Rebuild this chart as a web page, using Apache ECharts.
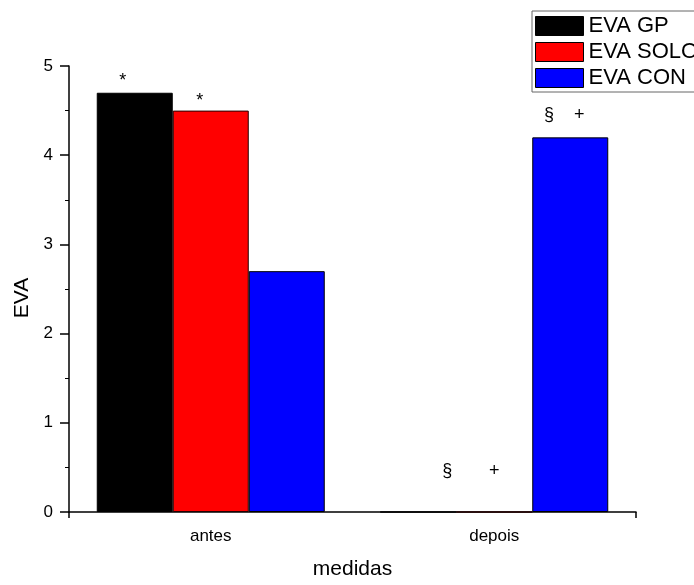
<!DOCTYPE html>
<html>
<head>
<meta charset="utf-8">
<script src="https://cdn.jsdelivr.net/npm/echarts@6/dist/echarts.min.js"></script>
<style>html,body{margin:0;padding:0;background:#fff;overflow:hidden;}#c{width:694px;height:585px;}</style>
</head>
<body>
<div id="c"></div>
<script>
const categories = ['antes', 'depois'];
const seriesNames = ['EVA GP', 'EVA SOLO', 'EVA CON'];
const evaGP = [4.7, 0];
const evaSOLO = [4.5, 0];
const evaCON = [2.7, 4.2];
const marksGP = ['*', '§'];
const marksSOLO = ['*', '+'];
const marksCON = ['', '§    +'];

const FONT = 'Liberation Sans, Arial, sans-serif';
const chart = echarts.init(document.getElementById('c'), null, {renderer: 'canvas', width: 694, height: 585});

function build(values, marks, offsets, dists) {
  return values.map((v, i) => ({
    value: v,
    label: {
      show: marks[i] !== '',
      position: 'top',
      formatter: marks[i],
      offset: offsets[i],
      distance: dists[i],
      color: '#000',
      fontFamily: FONT,
      fontSize: 18
    }
  }));
}

chart.setOption({
  animation: false,
  backgroundColor: '#fff',
  legend: {
    orient: 'vertical',
    left: 532, top: 11,
    padding: [4, 60, 3, 3],
    itemWidth: 48, itemHeight: 19, itemGap: 4,
    borderColor: '#666', borderWidth: 1,
    icon: 'rect',
    itemStyle: {borderColor: '#000', borderWidth: 1},
    textStyle: {fontFamily: FONT, fontSize: 22, lineHeight: 19, color: '#000'},
    data: seriesNames
  },
  grid: {left: 69, top: 66, width: 567, height: 454, containLabel: false},
  xAxis: [{
    type: 'category',
    data: categories,
    name: 'medidas',
    nameLocation: 'middle',
    nameGap: 47,
    nameTextStyle: {fontFamily: FONT, fontSize: 21, color: '#000'},
    axisLine: {lineStyle: {color: '#000', width: 1.5}},
    axisTick: {alignWithLabel: true, length: 6, lineStyle: {color: '#000', width: 1.5}},
    axisLabel: {fontFamily: FONT, fontSize: 17, color: '#000', margin: 16}
  }, {
    type: 'category',
    data: [''],
    position: 'bottom',
    offset: 0,
    axisLine: {show: false},
    axisTick: {show: true, length: 6, lineStyle: {color: '#000', width: 1.5}},
    axisLabel: {show: false},
    splitLine: {show: false}
  }],
  yAxis: {
    type: 'value',
    min: 0, max: 5, interval: 1,
    name: 'EVA',
    nameLocation: 'middle',
    nameGap: 36,
    nameTextStyle: {fontFamily: FONT, fontSize: 21, color: '#000', padding: [0, 18, 0, 0]},
    axisLine: {show: true, lineStyle: {color: '#000', width: 1.5}},
    axisTick: {show: true, length: 9, lineStyle: {color: '#000', width: 1.5}},
    minorTick: {show: true, splitNumber: 2, length: 4, lineStyle: {color: '#000', width: 1}},
    splitLine: {show: false},
    axisLabel: {fontFamily: FONT, fontSize: 17, color: '#000', margin: 16}
  },
  series: [
    {name: seriesNames[0], type: 'bar', barWidth: 76, barGap: '0%',
     itemStyle: {color: '#000', borderColor: '#000', borderWidth: 1},
     data: build(evaGP, marksGP, [[-12, 0], [29, 0]], [3, 31])},
    {name: seriesNames[1], type: 'bar', barWidth: 76, barGap: '0%',
     itemStyle: {color: '#ff0000', borderColor: '#200', borderWidth: 1},
     data: build(evaSOLO, marksSOLO, [[-11, 0], [0, 0]], [1, 31])},
    {name: seriesNames[2], type: 'bar', barWidth: 76, barGap: '0%',
     itemStyle: {color: '#0000ff', borderColor: '#000', borderWidth: 1},
     data: build(evaCON, marksCON, [[0, 0], [-6, 0]], [5, 13])}
  ]
});
</script>
</body>
</html>
